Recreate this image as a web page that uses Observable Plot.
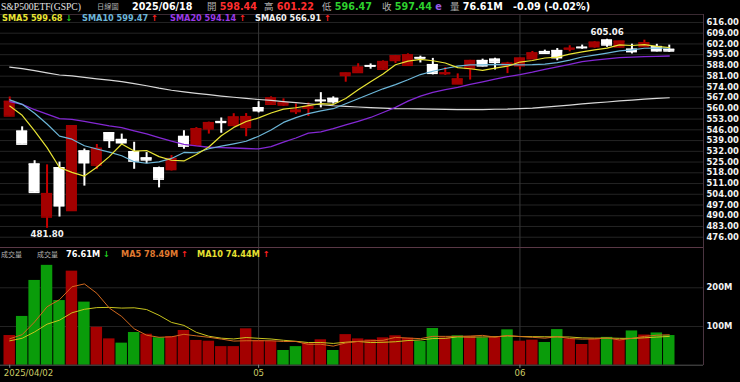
<!DOCTYPE html>
<html><head><meta charset="utf-8">
<script src="https://cdn.jsdelivr.net/npm/d3@7"></script>
<script src="https://cdn.jsdelivr.net/npm/@observablehq/plot@0.6"></script>
<style>
html,body{margin:0;padding:0;background:#000;}
#wrap{position:relative;width:740px;height:382px;background:#000;overflow:hidden;font-family:"DejaVu Sans",sans-serif;}
#wrap svg{position:absolute;left:0;}
.t{position:absolute;white-space:nowrap;z-index:5;}
.ln{position:absolute;z-index:4;}
</style></head>
<body><div id="wrap"></div>
<script>
// ---- data ----
const dates = [
 "2025-04-02","2025-04-03","2025-04-04","2025-04-07","2025-04-08","2025-04-09","2025-04-10","2025-04-11","2025-04-14","2025-04-15",
 "2025-04-16","2025-04-17","2025-04-21","2025-04-22","2025-04-23","2025-04-24","2025-04-25","2025-04-28","2025-04-29","2025-04-30",
 "2025-05-01","2025-05-02","2025-05-05","2025-05-06","2025-05-07","2025-05-08","2025-05-09","2025-05-12","2025-05-13","2025-05-14",
 "2025-05-15","2025-05-16","2025-05-19","2025-05-20","2025-05-21","2025-05-22","2025-05-23","2025-05-27","2025-05-28","2025-05-29",
 "2025-05-30","2025-06-02","2025-06-03","2025-06-04","2025-06-05","2025-06-06","2025-06-09","2025-06-10","2025-06-11","2025-06-12",
 "2025-06-13","2025-06-16","2025-06-17","2025-06-18"];
const opens = [
 555.05,545.11,523.67,489.19,521.26,493.44,532.17,523.01,544.05,539.67,
 531.68,527.64,521.16,520.14,541.66,535.95,546.65,551.35,548.91,547.57,
 560.37,562.73,562.22,557.94,560.15,565.23,566.48,581.47,583.41,587.81,
 585.56,591.25,588.10,593.09,588.44,582.66,575.98,586.07,591.13,592.00,
 588.24,587.76,592.34,596.96,597.63,598.66,599.72,600.22,604.48,600.01,
 598.50,600.30,600.24,598.44];
const highs = [
 567.42,547.97,525.87,523.17,524.98,548.62,533.50,536.43,544.28,543.23,
 537.89,531.17,521.70,529.23,545.43,547.44,551.05,553.74,556.52,556.60,
 564.33,567.53,566.20,562.83,563.48,570.25,567.50,583.00,589.08,588.97,
 590.97,594.50,595.54,594.05,592.58,586.62,582.48,591.31,592.10,592.70,
 590.00,592.79,597.08,597.95,599.00,600.83,601.25,603.47,605.06,603.75,
 601.85,604.45,601.75,601.22];
const lows = [
 554.81,536.70,505.06,481.80,489.16,493.06,509.32,520.07,533.88,536.50,
 520.29,523.91,508.17,519.17,533.38,535.25,543.24,543.77,548.40,541.52,
 557.03,562.23,561.20,556.04,554.67,560.31,562.76,577.04,582.84,585.54,
 585.10,589.28,588.10,589.60,581.82,581.41,575.57,578.43,586.99,585.00,
 582.65,585.06,591.85,595.49,591.05,596.86,598.51,599.22,599.79,599.52,
 595.48,600.22,596.76,596.47];
const closes = [
 564.52,536.70,505.28,504.38,496.48,548.62,524.58,533.94,539.12,537.61,
 525.66,526.41,513.88,527.25,535.42,546.69,550.64,550.85,554.32,554.54,
 558.47,566.76,563.51,558.80,561.15,565.06,564.34,582.99,586.84,587.59,
 590.46,594.20,594.85,592.85,582.86,583.09,579.11,591.15,587.73,590.05,
 589.39,592.71,596.09,595.93,593.05,599.14,599.68,603.08,601.36,603.75,
 597.00,602.68,597.53,597.44];
const volumes = [ // millions
 76.7,126,219,258,167,243,163,98,68,57,
 84.5,80,71,74,89.7,64,62,48,48,94,
 64,62,38,48,57,65.6,38,79,68,65.6,
 70.7,76,69.8,61.2,94.8,70.7,76,74,69.8,72.4,
 91.4,62,64.7,58.7,92,67.5,53.5,67,71.9,66,
 88.5,78,83.35,76.61];
// closes/volumes before the first visible day (feed the moving averages)
const priorCloses = [
 595.36,588.63,589.49,580.49,581.39,582.19,592.78,591.64,597.58,603.05,606.44,609.75,607.97,599.37,604.52,601.81,605.04,601.82,
 597.77,601.78,604.22,606.32,600.77,604.85,605.31,603.36,609.73,609.70,611.49,612.93,610.38,599.94,597.21,594.24,594.54,585.05,594.18,
 583.77,576.86,583.06,572.71,575.92,560.58,555.92,558.87,551.42,562.81,567.15,561.02,567.13,565.49,563.98,574.08,575.46,568.59,567.08,555.66,559.39,
 560.97];
const priorVolumes = [60,55,58,64,52,72,55,62,75];
const priceTicks = d3.range(476, 617, 7);
const volTicks = [100, 200];
const monthNames = ["05","06"];

// ---- derived ----
const RED = "#a30000", GREEN = "#0a9c0a";
const n = dates.length;
const prevBefore = priorCloses[priorCloses.length - 1];
const candles = dates.map((d, i) => ({
  i, date: d, open: opens[i], high: highs[i], low: lows[i], close: closes[i], vol: volumes[i],
  up: closes[i] >= opens[i],
  volUp: closes[i] >= (i ? closes[i - 1] : prevBefore)
}));
function sma(prior, vals, k) {
  const all = prior.concat(vals), off = prior.length;
  return vals.map((_, i) => ({i, v: d3.mean(all.slice(off + i - k + 1, off + i + 1))}));
}
const ma5 = sma(priorCloses, closes, 5), ma10 = sma(priorCloses, closes, 10),
      ma20 = sma(priorCloses, closes, 20), ma60 = sma(priorCloses, closes, 60);
const vma5 = sma(priorVolumes, volumes, 5), vma10 = sma(priorVolumes, volumes, 10);
const monthStarts = candles.filter((c, i) => i > 0 && c.date.slice(5, 7) !== dates[i - 1].slice(5, 7)).map(c => c.i);
const xLabels = monthStarts.map((i, k) => ({i, label: monthNames[k]}));
const firstLabel = [{i: 0, label: dates[0].replace(/-/g, "/")}];
const hiC = candles.reduce((a, b) => b.high > a.high ? b : a);
const loC = candles.reduce((a, b) => b.low < a.low ? b : a);

const FONT = "DejaVu Sans";
const xScale = {domain: [-0.5, n - 0.5], range: [3, 675], axis: null};
const candleColor = d => d.up ? RED : "#ffffff";
const wickColor = d => d.up ? "#c80000" : "#ffffff";

const price = Plot.plot({
  width: 740, height: 247, marginTop: 14, marginBottom: 0, marginLeft: 0, marginRight: 37,
  style: {background: "transparent", overflow: "visible"},
  x: xScale,
  y: {domain: [469.3, 621.19], axis: null},
  marks: [
    Plot.gridY(priceTicks, {stroke: "#242424", strokeOpacity: 1}),
    Plot.ruleX(monthStarts, {stroke: "#383838"}),
    Plot.axisY(priceTicks, {anchor: "right", tickSize: 0, tickPadding: 3, tickFormat: d => d.toFixed(2),
      fill: "#f2f2f2", fontSize: 8.4, fontWeight: "bold", fontFamily: FONT}),
    Plot.ruleX(candles, {x: "i", y1: "low", y2: "high", stroke: wickColor, strokeWidth: 2}),
    Plot.rect(candles, {x1: d => d.i - 0.5, x2: d => d.i + 0.5, y1: "open", y2: "close", fill: candleColor, insetLeft: 0.7, insetRight: 0.7}),
    Plot.ruleY(candles, {y: "close", x1: d => d.i - 0.44, x2: d => d.i + 0.44, stroke: candleColor, strokeWidth: 1.6}),
    Plot.ruleY(candles, {y: "open", x1: d => d.i - 0.44, x2: d => d.i + 0.44, stroke: candleColor, strokeWidth: 1.6}),
    Plot.line(ma60, {x: "i", y: "v", stroke: "#d8d8d8", strokeWidth: 1.2}),
    Plot.line(ma20, {x: "i", y: "v", stroke: "#8428d4", strokeWidth: 1.3}),
    Plot.line(ma10, {x: "i", y: "v", stroke: "#6cb6d8", strokeWidth: 1.2}),
    Plot.line(ma5, {x: "i", y: "v", stroke: "#e8e434", strokeWidth: 1.2}),
    Plot.text([hiC], {x: "i", y: "high", text: d => d.high.toFixed(2), dy: -7, fill: "#f2f2f2", fontSize: 8.6, fontWeight: "bold", fontFamily: FONT}),
    Plot.text([loC], {x: "i", y: "low", text: d => d.low.toFixed(2), dy: 6, fill: "#f2f2f2", fontSize: 8.6, fontWeight: "bold", fontFamily: FONT})
  ]
});

const volume = Plot.plot({
  width: 740, height: 135, marginTop: 0, marginBottom: 17.3, marginLeft: 0, marginRight: 37,
  style: {background: "transparent", overflow: "visible"},
  x: xScale,
  y: {domain: [0, 304.1], axis: null},
  marks: [
    Plot.gridY(volTicks, {stroke: "#242424", strokeOpacity: 1}),
    Plot.ruleX(monthStarts, {stroke: "#383838"}),
    Plot.rectY(candles, {x1: d => d.i - 0.5, x2: d => d.i + 0.5, y1: 0, y2: "vol", fill: d => d.volUp ? RED : GREEN, insetLeft: 0.5, insetRight: 0.5}),
    Plot.line(vma10, {x: "i", y: "v", stroke: "#c8c41e", strokeWidth: 1}),
    Plot.line(vma5, {x: "i", y: "v", stroke: "#d2691e", strokeWidth: 1}),
    Plot.ruleY([0], {stroke: "#555"}),
    Plot.ruleX([0].concat(monthStarts), {y1: 0, y2: -8, stroke: "#888"}),
    Plot.axisY(volTicks, {anchor: "right", tickSize: 0, tickPadding: 3, tickFormat: d => d + "M",
      fill: "#f2f2f2", fontSize: 8.4, fontWeight: "bold", fontFamily: FONT}),
    Plot.text(firstLabel, {x: "i", text: "label", frameAnchor: "bottom", dy: 11, dx: -6, textAnchor: "start", fill: "#cccc66", fontSize: 8.6, fontFamily: FONT}),
    Plot.text(xLabels, {x: "i", text: "label", frameAnchor: "bottom", dy: 11, fill: "#cccc66", fontSize: 8.6, fontFamily: FONT})
  ]
});

const wrap = document.getElementById("wrap");
price.style.top = "0px";
volume.style.top = "247px";
wrap.appendChild(price);
wrap.appendChild(volume);

function line(x, y, w, h, c) {
  const d = document.createElement("div");
  d.className = "ln";
  Object.assign(d.style, {left: x + "px", top: y + "px", width: w + "px", height: h + "px", background: c});
  wrap.appendChild(d);
}
line(0, 14, 703, 1, "#3a2a32");
line(0, 247, 703, 1, "#5a3846");
line(703, 14, 1, 351, "#4a3440");

function put(x, yc, size, parts, opts = {}) {
  const d = document.createElement("div");
  d.className = "t";
  Object.assign(d.style, {left: x + "px", top: (yc - size * 0.5) + "px", fontSize: size + "px", lineHeight: size + "px",
    fontFamily: opts.family || FONT, fontWeight: opts.weight || "bold"});
  parts.forEach(([txt, col, extra]) => {
    const s = document.createElement("span");
    s.textContent = txt; s.style.color = col;
    if (extra) Object.assign(s.style, extra);
    d.appendChild(s);
  });
  wrap.appendChild(d);
}
const cjk = size => ({fontFamily: '"Noto Sans CJK TC"', fontWeight: "normal", fontSize: size + "px"});
const GRAY = "#b0b0b0", HRED = "#ff2e2e", HGRN = "#2ed22e";
const last = candles[n - 1], prev = candles[n - 2];
const chg = last.close - prev.close;
const upArrow = ["↑", "#ff2020"], downArrow = ["↓", "#20d020"];
const arrow = (a, b) => a >= b ? upArrow : downArrow;

put(1, 6.5, 9.6, [["S&P500ETF(GSPC)", "#e2e2e2"]], {family: '"Liberation Serif"', weight: "normal"});
put(97, 6.5, 7.2, [["日線圖", GRAY, cjk(7.2)]]);
put(132, 6.5, 9.6, [[last.date.replace(/-/g, "/"), "#ffffff"]]);
put(207, 6.5, 9.6, [["開", GRAY, cjk(9.5)], [" " + last.open.toFixed(2), HRED]]);
put(264, 6.5, 9.6, [["高", GRAY, cjk(9.5)], [" " + last.high.toFixed(2), HRED]]);
put(322, 6.5, 9.6, [["低", GRAY, cjk(9.5)], [" " + last.low.toFixed(2), HGRN]]);
put(382, 6.5, 9.6, [["收", GRAY, cjk(9.5)], [" " + last.close.toFixed(2), HGRN], [" e", "#9a5ae6"]]);
put(450, 6.5, 9.6, [["量", GRAY, cjk(9.5)], [" " + last.vol.toFixed(2) + "M", "#ffffff"]]);
put(513, 6.5, 9.6, [[chg.toFixed(2) + " (" + (chg / prev.close * 100).toFixed(2) + "%)", "#ffffff"]]);

const maRow = [[2, "SMA5", ma5, "#e8e434"], [82, "SMA10", ma10, "#6cb6d8"], [170, "SMA20", ma20, "#9a3ae6"], [255, "SMA60", ma60, "#f0f0f0"]];
maRow.forEach(([x, name, s, col]) => {
  const a = arrow(s[n - 1].v, s[n - 2].v);
  put(x, 18, 8.2, [[name + " " + s[n - 1].v.toFixed(2) + " ", col], [a[0], a[1]]]);
});

put(1, 254, 7, [["成交量", GRAY, cjk(7)]]);
put(37, 254, 7, [["成交量", GRAY, cjk(7)]]);
const va = arrow(last.vol, prev.vol);
put(66, 254, 8.2, [[last.vol.toFixed(2) + "M ", "#ffffff"], [va[0], va[1]]]);
[[121, "MA5", vma5, "#e07a30"], [197, "MA10", vma10, "#e6e032"]].forEach(([x, name, s, col]) => {
  const a = arrow(s[n - 1].v, s[n - 2].v);
  put(x, 254, 8.2, [[name + " " + s[n - 1].v.toFixed(2) + "M ", col], [a[0], a[1]]]);
});
</script>
</body></html>
